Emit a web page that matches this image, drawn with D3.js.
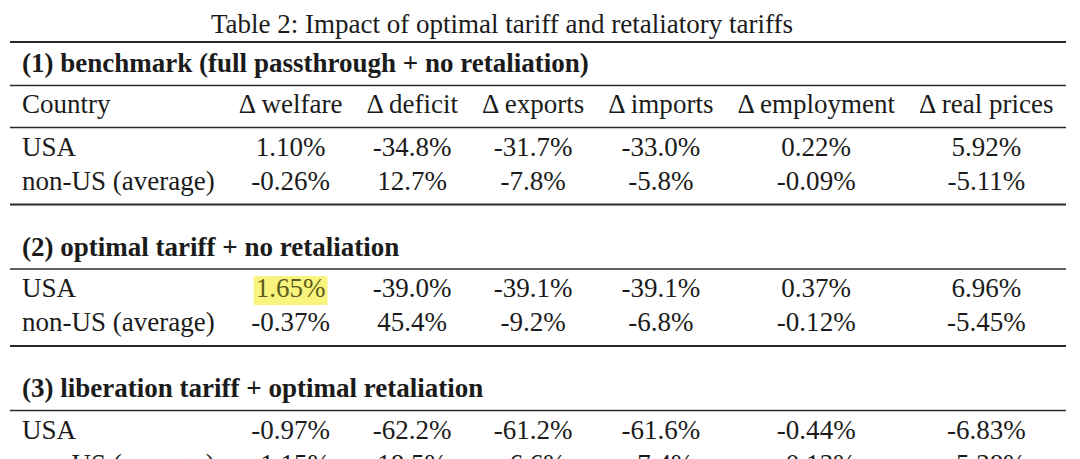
<!DOCTYPE html>
<html>
<head>
<meta charset="utf-8">
<script src="https://cdn.jsdelivr.net/npm/d3@7"></script>
<style>
  html, body { margin: 0; background: #fff; }
  svg { display: block; }
</style>
</head>
<body>
<div id="chart"></div>
<script>
const title = "Table 2: Impact of optimal tariff and retaliatory tariffs";
const columns = ["Country", "Δ welfare", "Δ deficit", "Δ exports", "Δ imports", "Δ employment", "Δ real prices"];
const sectionTitles = [
  "(1) benchmark (full passthrough + no retaliation)",
  "(2) optimal tariff + no retaliation",
  "(3) liberation tariff + optimal retaliation"
];
const countries = ["USA", "non-US (average)"];
const benchmark = [
  ["1.10%", "-34.8%", "-31.7%", "-33.0%", "0.22%", "5.92%"],
  ["-0.26%", "12.7%", "-7.8%", "-5.8%", "-0.09%", "-5.11%"]
];
const optimalTariff = [
  ["1.65%", "-39.0%", "-39.1%", "-39.1%", "0.37%", "6.96%"],
  ["-0.37%", "45.4%", "-9.2%", "-6.8%", "-0.12%", "-5.45%"]
];
// last row is cut off at the bottom of the picture, values are estimates
const liberationRetaliation = [
  ["-0.97%", "-62.2%", "-61.2%", "-61.6%", "-0.44%", "-6.83%"],
  ["-1.15%", "18.5%", "-6.6%", "-7.4%", "-0.13%", "-5.38%"]
];
const sectionValues = [benchmark, optimalTariff, liberationRetaliation];
const highlightCell = { section: 1, row: 0, col: 0 };

const width = 1080;
const height = 459;
const fontFamily = "'Liberation Serif', 'DejaVu Serif', serif";
const ink = "#1b1b1b";
const pad = 12;
const tableLeft = 10;
const tableRight = 1066;

const svg = d3.select("#chart").append("svg")
  .attr("width", width)
  .attr("height", height)
  .attr("viewBox", `0 0 ${width} ${height}`)
  .style("font-family", fontFamily);

// measure strings the way a tabular environment would size its columns
const probe = svg.append("text").attr("visibility", "hidden");
function textWidth(str, size, weight = 400) {
  probe.attr("font-size", size).attr("font-weight", weight).text(str);
  return probe.node().getComputedTextLength();
}

function naturalWidths(size) {
  return columns.map((head, i) => {
    const cells = i === 0 ? countries : sectionValues.flatMap((rows) => rows.map((r) => r[i - 1]));
    return d3.max([head, ...cells], (s) => textWidth(s, size));
  });
}

// pick a font size so the columns fill the table width
const baseSize = 24;
const baseSum = d3.sum(naturalWidths(baseSize));
const fontSize = baseSize * (tableRight - tableLeft - 2 * pad * columns.length) / baseSum;
const colWidths = naturalWidths(fontSize).map((w) => w + 2 * pad);
const colLefts = [tableLeft, ...Array.from(d3.cumsum(colWidths), (c) => tableLeft + c)];
probe.remove();

const x = d3.scaleOrdinal()
  .domain(d3.range(columns.length))
  .range(colLefts.slice(0, columns.length).map((l, i) => (i === 0 ? l + pad : l + colWidths[i] / 2)));

function cellText(g, str, col, y, weight = 400) {
  return g.append("text")
    .attr("x", x(col))
    .attr("y", y)
    .attr("text-anchor", col === 0 ? "start" : "middle")
    .attr("font-size", fontSize)
    .attr("font-weight", weight)
    .attr("fill", ink)
    .text(str);
}

function rule(y, thick) {
  svg.append("line")
    .attr("x1", tableLeft)
    .attr("x2", tableRight)
    .attr("y1", y)
    .attr("y2", y)
    .attr("stroke", "#2a2a2a")
    .attr("stroke-width", thick ? 2.2 : 1.3);
}

svg.append("text")
  .attr("x", 502)
  .attr("y", 33)
  .attr("text-anchor", "middle")
  .attr("font-size", fontSize)
  .attr("fill", ink)
  .text(title);

let cursor = 42;
rule(cursor, true);

const body = svg.append("g");
const marks = svg.append("g");

sectionValues.forEach((rows, s) => {
  const headY = cursor + (s === 0 ? 30 : 51);
  body.append("text")
    .attr("x", tableLeft + pad)
    .attr("y", headY)
    .attr("font-size", fontSize)
    .attr("font-weight", 700)
    .attr("fill", ink)
    .text(sectionTitles[s]);
  cursor = headY + 13.5;
  rule(cursor, false);

  if (s === 0) {
    const colY = cursor + 27;
    columns.forEach((c, i) => cellText(body, c, i, colY));
    cursor = colY + 15;
    rule(cursor, false);
  }

  let rowY = cursor + 28;
  rows.forEach((vals, r) => {
    cellText(body, countries[r], 0, rowY);
    vals.forEach((v, c) => {
      const t = cellText(body, v, c + 1, rowY);
      if (s === highlightCell.section && r === highlightCell.row && c === highlightCell.col) {
        const bb = t.node().getBBox();
        marks.append("rect")
          .attr("x", bb.x - 2)
          .attr("y", rowY - 21)
          .attr("width", bb.width + 4)
          .attr("height", 29)
          .attr("fill", "#f8f47e");
        t.attr("fill", "#5e5c1c");
        marks.lower();
      }
    });
    cursor = rowY;
    rowY += 34;
  });
  cursor += 15;
  rule(cursor, true);
});
</script>
</body>
</html>
